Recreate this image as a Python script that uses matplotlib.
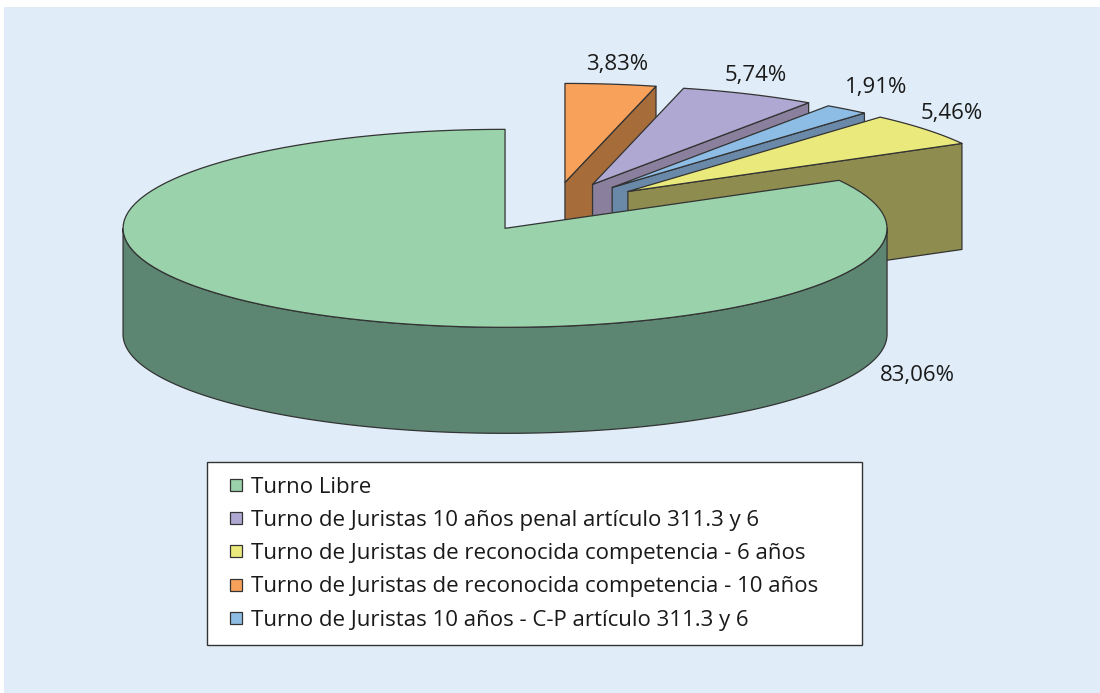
import numpy as np
import matplotlib.pyplot as plt
from matplotlib.patches import Polygon
from matplotlib.lines import Line2D

plt.rcParams['font.family'] = ['Open Sans', 'DejaVu Sans']

# data (legend order)
categorias = [
    'Turno Libre',
    'Turno de Juristas 10 años penal artículo 311.3 y 6',
    'Turno de Juristas de reconocida competencia - 6 años',
    'Turno de Juristas de reconocida competencia - 10 años',
    'Turno de Juristas 10 años - C-P artículo 311.3 y 6',
]
porcentajes = [83.06, 5.74, 5.46, 3.83, 1.91]
etiquetas = ['83,06%', '5,74%', '5,46%', '3,83%', '1,91%']
# order of the slices, clockwise from 12 o'clock
orden_pie = [3, 1, 4, 2, 0]

# styles
color_top = ['#99D2AB', '#AEA8D2', '#EAEA7C', '#F8A15B', '#8DBCE4']
color_side = ['#5C8672', '#8A809E', '#8E8D4F', '#A66C3A', '#6A89A9']
EDGE = '#333333'
FS = 16

# layout of the 3d pie (pixel units)
W, H = 1100, 693
CX, CY = 553.5, 207.0
RX, RY = 382.0, 99.0
DEPTH = 106.0
EXPLODE = 0.25
label_nudge = [(606, 62), (7, -19), (26, -16), (6, -20), (29, -22)]

fig = plt.figure(figsize=(W / 100, H / 100), dpi=100)
fig.patch.set_facecolor('white')
ax = fig.add_axes([4 / W, 0, 1 - 4 / W, (H - 7) / H])
ax.set_facecolor('#E0EDF8')
ax.set_xlim(4, W)
ax.set_ylim(H, 7)
ax.set_xticks([])
ax.set_yticks([])
for s in ax.spines.values():
    s.set_visible(False)


def punto(c, t, dz=0.0):
    r = np.radians(t)
    return (c[0] + RX * np.cos(r), c[1] - RY * np.sin(r) + dz)


def arco(c, a, b, dz=0.0, n=120):
    ts = np.linspace(a, b, n)
    r = np.radians(ts)
    return list(zip(c[0] + RX * np.cos(r), c[1] - RY * np.sin(r) + dz))


# angles of each slice
rebanadas = []
acum = 0.0
for i in orden_pie:
    t1 = 90 - acum * 3.6
    acum += porcentajes[i]
    t0 = 90 - acum * 3.6
    rebanadas.append((i, t0, t1))

# back slices first
rebanadas.sort(key=lambda s: -np.sin(np.radians((s[1] + s[2]) / 2)))

for i, t0, t1 in rebanadas:
    m = np.radians((t0 + t1) / 2)
    c = (CX + EXPLODE * RX * np.cos(m), CY - EXPLODE * RY * np.sin(m))
    kw = dict(edgecolor=EDGE, linewidth=0.9, joinstyle='round')

    # radial walls
    for t, vis in ((t0, np.cos(np.radians(t0)) > 1e-6), (t1, np.cos(np.radians(t1)) < -1e-6)):
        if vis:
            e = punto(c, t)
            pts = [c, e, (e[0], e[1] + DEPTH), (c[0], c[1] + DEPTH)]
            ax.add_patch(Polygon(pts, closed=True, facecolor=color_side[i], **kw))

    # outer wall, front half only
    for k in range(-2, 2):
        a = max(t0, -180 + 360 * k)
        b = min(t1, 0 + 360 * k)
        if b > a:
            pts = arco(c, a, b) + arco(c, b, a, DEPTH)
            ax.add_patch(Polygon(pts, closed=True, facecolor=color_side[i], **kw))

    # top face
    pts = [c] + arco(c, t0, t1)
    ax.add_patch(Polygon(pts, closed=True, facecolor=color_top[i], **kw))

    # label
    p = punto(c, np.degrees(m))
    dx, dy = label_nudge[i]
    ax.text(p[0] + dx, p[1] + dy, etiquetas[i], ha='center', va='center',
            fontsize=FS, color='#1a1a1a')

handles = [Line2D([], [], linestyle='none', marker='s', markersize=8.6,
                  markerfacecolor=color_top[i], markeredgecolor=EDGE,
                  markeredgewidth=0.9)
           for i in range(len(categorias))]
leg = ax.legend(handles, categorias, loc='upper left',
                bbox_to_anchor=(207 / W, 1 - 645 / H, 655 / W, 183 / H),
                bbox_transform=fig.transFigure, mode='expand',
                fontsize=FS, frameon=True, fancybox=False, framealpha=1,
                edgecolor=EDGE, facecolor='white', borderpad=0.66,
                labelspacing=0.55, handlelength=1.25,
                handletextpad=0.05, borderaxespad=0)
leg.get_frame().set_linewidth(1.0)
for t in leg.get_texts():
    t.set_color('#1a1a1a')

fig.savefig('out.png', dpi=100, facecolor=fig.get_facecolor())
